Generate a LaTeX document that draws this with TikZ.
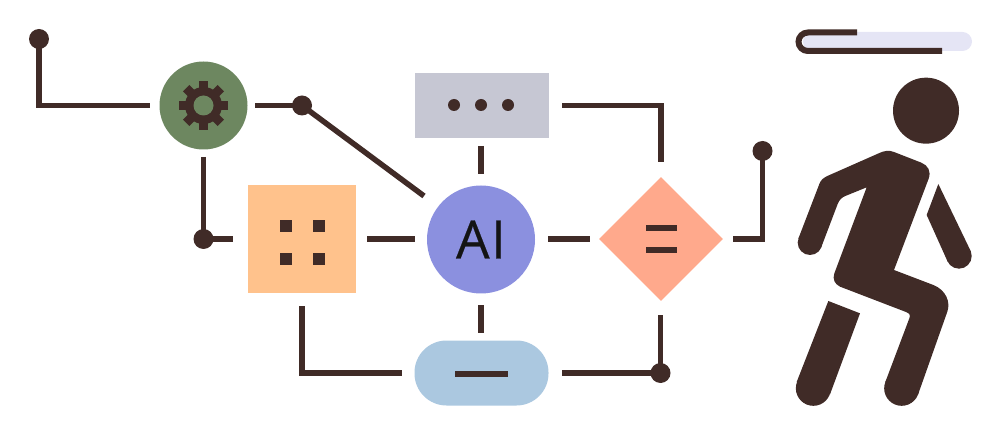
\documentclass[tikz,border=0pt]{standalone}
\usepackage{fontspec}
\setmainfont{Open Sans}
\newfontfamily\aifont[FakeBold=0.4,LetterSpace=3]{Open Sans}
\usetikzlibrary{shapes.geometric,calc}
\definecolor{ink}{HTML}{402B27}
\definecolor{gearbg}{HTML}{6D8760}
\definecolor{sq}{HTML}{FFC28C}
\definecolor{aibg}{HTML}{8B90DF}
\definecolor{rectbg}{HTML}{C6C7D3}
\definecolor{pillbg}{HTML}{ABC8E0}
\definecolor{dia}{HTML}{FFA98C}
\definecolor{pale}{HTML}{E5E5F5}
\tikzset{
  link/.style={draw=ink,line width=5.5pt},
  dot/.style={circle,fill=ink,draw=none,minimum size=20pt,inner sep=0pt},
  sdot/.style={circle,fill=ink,draw=none,minimum size=12pt,inner sep=0pt},
  qdot/.style={rectangle,fill=ink,draw=none,minimum size=12pt,inner sep=0pt},
  body/.style={fill=ink,draw=none},
  mark line/.style={draw=ink,line width=6pt},
}
\begin{document}
\begin{tikzpicture}[x=1pt,y=-1pt]
\useasboundingbox (0,0) rectangle (1000,435);
% shapes
\node[circle,fill=gearbg,minimum size=88pt,inner sep=0pt] (gear) at (203.5,105.5) {};
\node[rectangle,fill=sq,minimum size=108pt,inner sep=0pt] (square) at (302,239) {};
\node[circle,fill=aibg,minimum size=108pt,inner sep=0pt,text=black!92,font=\aifont\fontsize{53}{53}\selectfont] (ai) at (481,239.5) {AI};
\node[rectangle,fill=rectbg,minimum width=134pt,minimum height=65pt,inner sep=0pt] (top) at (481.5,105.5) {};
\node[rectangle,fill=pillbg,minimum width=134pt,minimum height=65pt,inner sep=0pt,rounded corners=32pt] (pill) at (481.5,373) {};
\node[diamond,fill=dia,minimum width=124pt,minimum height=124pt,inner sep=0pt,aspect=1] (eq) at (661,239) {};
% junction dots
\node[dot] (d1) at (39,39) {};
\node[dot] (d2) at (302,105.5) {};
\node[dot] (d3) at (203.5,239) {};
\node[dot] (d4) at (660.5,373) {};
\node[dot] (d5) at (762.5,151) {};
% free connector ends
\coordinate (a1) at (150,105.5);
\coordinate (a2) at (255,105.5);
\coordinate (a3) at (424,196);
\coordinate (a4) at (203.5,157);
\coordinate (a5) at (233,239);
\coordinate (a6) at (367,239);
\coordinate (a7) at (415,239);
\coordinate (a8) at (548,239);
\coordinate (a9) at (590,239);
\coordinate (b1) at (481,146);
\coordinate (b2) at (481,174);
\coordinate (b3) at (481,305);
\coordinate (b4) at (481,333);
\coordinate (c1) at (562,105.5);
\coordinate (c2) at (661,162);
\coordinate (c3) at (733,239);
\coordinate (c4) at (562,373);
\coordinate (c5) at (660.5,315);
\coordinate (c6) at (302,306);
\coordinate (c7) at (402,373);
% connectors
\draw[link] (d1.center) |- (a1);
\draw[link] (a2) -- (d2.center);
\draw[link] (d2.center) -- (a3);
\draw[link] (a4) -- (d3.center) -- (a5);
\draw[link] (a6) -- (a7);
\draw[link] (a8) -- (a9);
\draw[link] (b1) -- (b2);
\draw[link] (b3) -- (b4);
\draw[link] (c1) -| (c2);
\draw[link] (c3) -| (d5.center);
\draw[link] (c4) -- (d4.center) -- (c5);
\draw[link] (c6) |- (c7);
% gear icon
\foreach \a in {0,45,...,315}{
  \fill[ink,shift={(gear.center)},rotate=\a] (-4.5,-24.5) rectangle (4.5,-12);
}
\fill[ink] (gear.center) circle[radius=18.5pt];
\fill[gearbg] (gear.center) circle[radius=10pt];
% rectangle dots
\node[sdot] (t1) at (454,105) {};
\node[sdot] (t2) at (481,105) {};
\node[sdot] (t3) at (508,105) {};
% square dots
\node[qdot] (s1) at (285.6,225.6) {};
\node[qdot] (s2) at (319,225.6) {};
\node[qdot] (s3) at (285.6,258.7) {};
\node[qdot] (s4) at (319,258.7) {};
% pill dash and equals
\coordinate (p1) at (455,373.5);
\coordinate (p2) at (508,373.5);
\draw[mark line] (p1) -- (p2);
\coordinate (e1) at (646,228);
\coordinate (e2) at (677,228);
\coordinate (e3) at (646,250);
\coordinate (e4) at (677,250);
\draw[mark line,line width=5.5pt] (e1) -- (e2);
\draw[mark line,line width=5.5pt] (e3) -- (e4);
% halo
\fill[pale,rounded corners=9.5pt] (803,32) rectangle (972,51);
\coordinate (h1) at (857,32.5);
\coordinate (h2) at (942,51);
\draw[link,line width=6pt] (h1) -- (808,32.5) arc[start angle=90,end angle=270,x radius=9.5,y radius=-9.25] -- (h2);
% person, drawn in units of the 3x crop
\begin{scope}[shift={(780,10)},x=0.33333pt,y=-0.33333pt]
  \fill[body] (438,302) circle[radius=33pt];
  \fill[body] (90,698) circle[radius=12.3pt];
  \fill[body] (537,738) circle[radius=12.7pt];
  \fill[body] (100,1135) circle[radius=17.5pt];
  \fill[body] (365,1135) circle[radius=17.5pt];
  \fill[body]
    (55,686) -- (118,522) .. controls (122,510) and (130,504) .. (142,498)
    -- (296,430) .. controls (312,422) and (328,420) .. (342,426)
    -- (424,458) .. controls (444,466) and (454,484) .. (446,506)
    -- (342,780) -- (460,825) .. controls (498,840) and (512,876) .. (502,905)
    -- (414,1154) -- (316,1116) -- (388,925) .. controls (392,915) and (388,910) .. (378,906)
    -- (180,830) .. controls (164,822) and (157,808) .. (163,790)
    -- (260,532) -- (196,558) .. controls (184,563) and (178,570) .. (173,582)
    -- (124,711) -- cycle;
  \fill[body] (475,522) -- (571,721) -- (503,755) -- (440,615) -- cycle;
  \fill[body] (145,873) -- (240,910) -- (150,1153) -- (50,1116) -- cycle;
\end{scope}
\end{tikzpicture}
\end{document}
